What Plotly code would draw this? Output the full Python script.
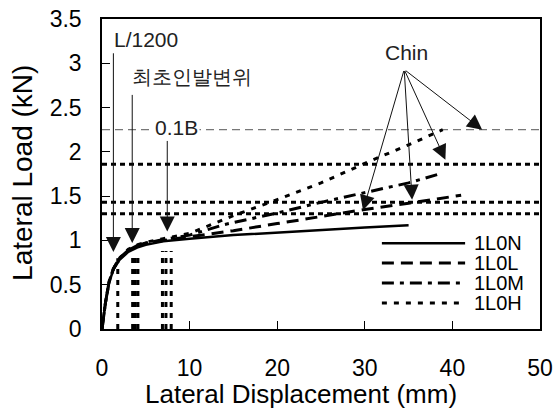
import plotly.graph_objects as go

# ---------------- data ----------------
disp_N = [0, 0.4, 0.8, 1.3, 2, 3, 4, 5, 7, 10, 15, 20, 25, 30, 35]
load_N = [0, 0.3, 0.52, 0.67, 0.78, 0.87, 0.92, 0.95, 0.99, 1.02, 1.06, 1.09, 1.12, 1.145, 1.17]

disp_L = [0, 0.4, 0.8, 1.3, 2, 3, 4, 5, 7, 10, 15, 20, 25, 30, 35, 41]
load_L = [0, 0.3, 0.53, 0.68, 0.8, 0.89, 0.94, 0.97, 1.0, 1.04, 1.11, 1.19, 1.27, 1.35, 1.42, 1.51]

disp_M = [0, 0.4, 0.8, 1.3, 2, 3, 4, 5, 7, 10, 14, 20, 25, 30, 35, 38.5]
load_M = [0, 0.3, 0.53, 0.68, 0.8, 0.89, 0.94, 0.97, 1.01, 1.06, 1.18, 1.31, 1.43, 1.54, 1.65, 1.75]

disp_H = [0, 0.4, 0.8, 1.3, 2, 3, 4, 5, 7, 10, 15, 20, 25, 30, 35, 38.9]
load_H = [0, 0.3, 0.53, 0.68, 0.8, 0.9, 0.95, 0.98, 1.02, 1.08, 1.28, 1.46, 1.65, 1.87, 2.08, 2.25]

series_names = ["1L0N", "1L0L", "1L0M", "1L0H"]

chin_loads_dotted = [1.30, 1.43, 1.86]
chin_load_dashed = 2.25
marker_disps = [1.8, 3.5, 3.8, 4.1, 6.9, 7.3, 7.9]
marker_tops = [0.8, 0.87, 0.87, 0.87, 0.88, 0.88, 0.88]

x_ticks = [0, 10, 20, 30, 40, 50]
y_ticks = [0, 0.5, 1, 1.5, 2, 2.5, 3, 3.5]

FONT = "Liberation Sans, Arial, sans-serif"

fig = go.Figure()

# reference lines
for v in chin_loads_dotted:
    fig.add_trace(go.Scatter(x=[0, 50], y=[v, v], mode="lines", showlegend=False,
                             hoverinfo="skip",
                             line=dict(color="black", width=3, dash="5px,4px")))
fig.add_trace(go.Scatter(x=[0, 50], y=[chin_load_dashed] * 2, mode="lines", showlegend=False,
                         hoverinfo="skip",
                         line=dict(color="#555", width=1, dash="8px,5px")))
for d, t in zip(marker_disps, marker_tops):
    fig.add_trace(go.Scatter(x=[d, d], y=[0, t], mode="lines", showlegend=False,
                             hoverinfo="skip",
                             line=dict(color="black", width=3, dash="5px,6px")))

# curves
styles = [
    dict(color="black", width=2.5, dash="solid"),
    dict(color="black", width=3, dash="12px,7px"),
    dict(color="black", width=3, dash="12px,6px,4px,6px"),
    dict(color="black", width=3, dash="5px,7px"),
]
for name, xs, ys, st in zip(series_names, [disp_N, disp_L, disp_M, disp_H],
                            [load_N, load_L, load_M, load_H], styles):
    fig.add_trace(go.Scatter(x=xs, y=ys, mode="lines", name=name, line=st,
                             showlegend=False))

annotations = []
shapes = []

def label(text, x, y, size=21, bg=None):
    d = dict(text=text, x=x, y=y, xref="x", yref="y", showarrow=False,
             font=dict(family=FONT, size=size, color="#222"))
    if bg:
        d["bgcolor"] = bg
    annotations.append(d)

def arrow(x, y, ax, ay):
    annotations.append(dict(text="", x=x, y=y, ax=ax, ay=ay, xref="x", yref="y",
                            axref="x", ayref="y", showarrow=True, arrowhead=2,
                            arrowsize=3.0, arrowwidth=1, arrowcolor="#111"))

label("L/1200", 5.0, 3.27)
label("최초인발변위", 10.3, 2.84, size=20)
label("0.1B", 8.45, 2.28, bg="white")
label("Chin", 34.8, 3.12)
arrow(1.3, 0.87, 1.3, 3.13)
arrow(3.45, 0.97, 3.45, 2.66)
arrow(7.45, 1.10, 7.45, 2.14)
for hx, hy in [(29.8, 1.34), (35.4, 1.46), (39.2, 1.91), (43.4, 2.25)]:
    arrow(hx, hy, 34.5, 2.93)

# legend (drawn as samples + labels, reference row spacing is tight)
leg_rows = [0.277, 0.213, 0.148, 0.084]
for name, st, yy in zip(series_names, styles, leg_rows):
    shapes.append(dict(type="line", xref="paper", yref="paper",
                       x0=0.639, x1=0.829, y0=yy, y1=yy,
                       line=dict(color="black", width=st["width"], dash=st["dash"])))
    annotations.append(dict(text=name, x=0.845, y=yy, xref="paper", yref="paper",
                            showarrow=False, xanchor="left", yanchor="middle",
                            font=dict(family=FONT, size=20, color="black")))

# axis titles
annotations.append(dict(text="Lateral Displacement (mm)", x=0.454, y=-0.21,
                        xref="paper", yref="paper", showarrow=False,
                        xanchor="center", yanchor="middle",
                        font=dict(family=FONT, size=26, color="black")))
annotations.append(dict(text="Lateral Load (kN)", x=-0.183, y=0.503, textangle=-90,
                        xref="paper", yref="paper", showarrow=False,
                        xanchor="center", yanchor="middle",
                        font=dict(family=FONT, size=28, color="black")))

fig.update_layout(
    width=556, height=414,
    margin=dict(l=102, r=16, t=19, b=85, autoexpand=False),
    plot_bgcolor="white", paper_bgcolor="white",
    font=dict(family=FONT, color="black"),
    annotations=annotations, shapes=shapes,
    showlegend=False,
    xaxis=dict(range=[0, 50], tickvals=x_ticks, ticks="inside", ticklen=8,
               tickwidth=1, tickcolor="black", showline=True, linecolor="black",
               linewidth=1.5, mirror=True, showgrid=False, zeroline=False,
               tickfont=dict(family=FONT, size=23, color="black"),
               ticklabelstandoff=18, automargin=False),
    yaxis=dict(range=[0, 3.5], tickvals=y_ticks, ticks="inside", ticklen=8,
               tickwidth=1, tickcolor="black", showline=True, linecolor="black",
               linewidth=1.5, mirror=True, showgrid=False, zeroline=False,
               tickfont=dict(family=FONT, size=23, color="black"),
               ticklabelstandoff=14, automargin=False),
)

fig.write_html("out.html", config={"displayModeBar": False},
               post_script="document.body.style.margin='0';document.body.style.overflow='hidden';")
